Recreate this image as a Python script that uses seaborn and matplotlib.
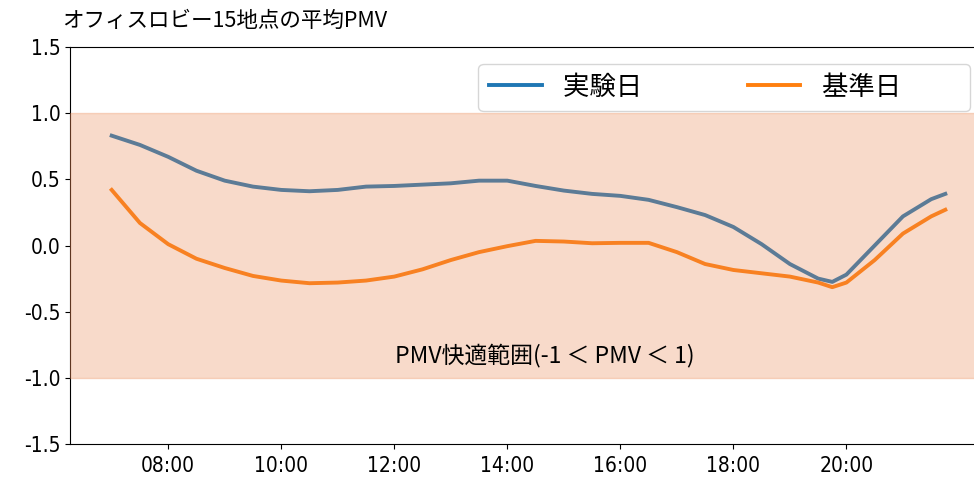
import pandas as pd
import matplotlib
matplotlib.use('Agg')
import matplotlib.pyplot as plt
import matplotlib.dates as mdates
import seaborn as sns

plt.rcParams['font.family'] = ['DejaVu Sans', 'Noto Sans CJK JP']
plt.rcParams['axes.unicode_minus'] = False

# 時刻（30分おき＋谷付近）
times = ['07:00', '07:30', '08:00', '08:30', '09:00', '09:30', '10:00', '10:30',
         '11:00', '11:30', '12:00', '12:30', '13:00', '13:30', '14:00', '14:30',
         '15:00', '15:30', '16:00', '16:30', '17:00', '17:30', '18:00', '18:30',
         '19:00', '19:30', '19:45', '20:00', '20:30', '21:00', '21:30', '21:45']

# 実験日の平均PMV
pmv_exp = [0.83, 0.76, 0.67, 0.565, 0.49, 0.445, 0.42, 0.41,
           0.42, 0.445, 0.45, 0.46, 0.47, 0.49, 0.49, 0.45,
           0.415, 0.39, 0.375, 0.345, 0.29, 0.23, 0.14, 0.01,
           -0.14, -0.25, -0.275, -0.22, 0.0, 0.22, 0.35, 0.39]

# 基準日の平均PMV
pmv_base = [0.42, 0.17, 0.01, -0.10, -0.17, -0.23, -0.265, -0.285,
            -0.28, -0.265, -0.235, -0.18, -0.11, -0.05, -0.005, 0.035,
            0.03, 0.017, 0.02, 0.02, -0.05, -0.14, -0.185, -0.21,
            -0.235, -0.28, -0.315, -0.28, -0.11, 0.09, 0.22, 0.27]

labels = ['実験日', '基準日']
tick_hours = [8, 10, 12, 14, 16, 18, 20]
y_ticks = [-1.5, -1.0, -0.5, 0.0, 0.5, 1.0, 1.5]

t = pd.to_datetime(['2000-01-01 ' + s for s in times])
df = pd.concat([
    pd.DataFrame({'time': t, 'PMV': pmv_exp, 'day': labels[0]}),
    pd.DataFrame({'time': t, 'PMV': pmv_base, 'day': labels[1]}),
])

fig = plt.figure(figsize=(9.74, 4.79), dpi=100)
ax = fig.add_axes([70 / 974, 35 / 479, 917 / 974, 397 / 479])

sns.lineplot(data=df, x='time', y='PMV', hue='day', palette=['tab:blue', 'tab:orange'],
             linewidth=2.8, ax=ax)

# 快適範囲（線の上に半透明で重ねる）
ax.axhspan(-1, 1, color='#eb8752', alpha=0.3, zorder=3)
ax.text(0.518, 0.222, 'PMV快適範囲(-1 ＜ PMV ＜ 1)', transform=ax.transAxes,
        ha='center', va='center', fontsize=16.5, family=['Noto Sans CJK JP', 'DejaVu Sans'],
        zorder=4)

ax.set_ylim(-1.5, 1.5)
ax.set_yticks(y_ticks)
ax.set_yticklabels([f'{v:.1f}' for v in y_ticks])
ax.xaxis.set_major_locator(mdates.HourLocator(byhour=tick_hours))
ax.xaxis.set_major_formatter(mdates.DateFormatter('%H:%M'))
ax.tick_params(labelsize=15)
ax.tick_params(axis='x', pad=5)
for lab in ax.get_xticklabels() + ax.get_yticklabels():
    lab.set_fontstretch('condensed')
ax.set_xlabel('')
ax.set_ylabel('')

handles, _ = ax.get_legend_handles_labels()
ax.legend(handles, [s + '       ' for s in labels], loc='upper right', ncol=2,
          fontsize=19, columnspacing=1.78, handlelength=2.0, borderaxespad=0.65)

fig.text(62 / 974, 1 - 27 / 479, 'オフィスロビー15地点の平均PMV', fontsize=15.5,
         family=['Noto Sans CJK JP', 'DejaVu Sans'], va='baseline', ha='left')

fig.savefig('out.png', dpi=100)
